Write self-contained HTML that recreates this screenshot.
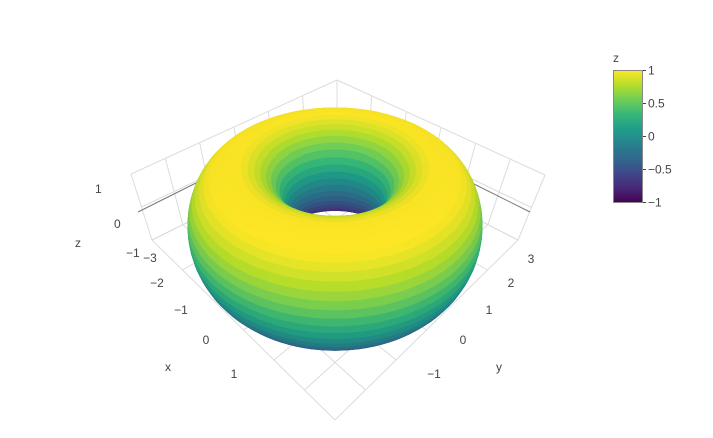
<!DOCTYPE html>
<html><head><meta charset="utf-8">
<style>
html,body{margin:0;padding:0;background:#fff;}
svg{display:block;font-family:"Liberation Sans",sans-serif;}
</style></head>
<body>
<svg id="chart" width="713" height="438" viewBox="0 0 713 438">
  <defs>
    <linearGradient id="vir" x1="0" y1="1" x2="0" y2="0">
      <stop offset="0" stop-color="#440154"/><stop offset="0.111" stop-color="#482878"/>
      <stop offset="0.222" stop-color="#3e4989"/><stop offset="0.333" stop-color="#31688e"/>
      <stop offset="0.444" stop-color="#26828e"/><stop offset="0.556" stop-color="#1f9e89"/>
      <stop offset="0.667" stop-color="#35b779"/><stop offset="0.778" stop-color="#6ece58"/>
      <stop offset="0.889" stop-color="#b5de2b"/><stop offset="1" stop-color="#fde725"/>
    </linearGradient>
  </defs>
  <g id="grid"></g>
  <g id="axisLines">
    <line x1="138" y1="212" x2="200" y2="181" stroke="#777" stroke-width="1"/>
    <line x1="470" y1="182" x2="530" y2="212" stroke="#777" stroke-width="1"/>
  </g>
  <g id="torus"></g>
  <g id="labels" font-size="12" fill="#444"></g>
  <g id="colorbar">
    <text x="613" y="62" font-size="12" fill="#444">z</text>
    <rect x="613.5" y="70.5" width="29" height="132" fill="url(#vir)" stroke="#888" stroke-width="1"/>
  </g>
</svg>
<script>
const NS = "http://www.w3.org/2000/svg";
const torusParams = [2, 1];          // major radius R, minor radius r
const zRange = [-1, 1];
const colorbarTicks = [1, 0.5, 0, -0.5, -1];
const colorbarTickLabels = ["1", "0.5", "0", "\u22120.5", "\u22121"];
const zTickLabels = ["1", "0", "\u22121"];
const xTickLabels = ["\u22123", "\u22122", "\u22121", "0", "1"];
const yTickLabels = ["3", "2", "1", "0", "\u22121"];
const viridis = ["#440154","#482878","#3e4989","#31688e","#26828e","#1f9e89","#35b779","#6ece58","#b5de2b","#fde725"];

function hex(c){return [parseInt(c.slice(1,3),16),parseInt(c.slice(3,5),16),parseInt(c.slice(5,7),16)];}
const vir = viridis.map(hex);
function colorAt(t, shade){
  t = Math.max(0, Math.min(1, t));
  const p = t*(vir.length-1), i = Math.min(vir.length-2, Math.floor(p)), f = p-i;
  const c = [0,1,2].map(k => Math.round((vir[i][k]*(1-f)+vir[i+1][k]*f)*shade));
  return "rgb("+c.join(",")+")";
}

// projection (mild perspective)
const cx = 335, cy = 213, S = 48, A = 30.3, B = 49.34, C = Math.sqrt(A*A+B*B), G = 0.077;
function proj(a, b, z){
  const d = (B*b + A*z)/C;
  const f = 1/(1 - G*d);
  return [cx + f*S*a, cy + f*(A*b - B*z)];
}
const cScale = v => (v - zRange[0])/(zRange[1]-zRange[0]);
const cbY = v => 70.5 + 132*(1 - cScale(v));

// grid
const grid = document.getElementById("grid");
function line(p, q, col, name){
  const l = document.createElementNS(NS, "line");
  l.setAttribute("x1", p[0]); l.setAttribute("y1", p[1]);
  l.setAttribute("x2", q[0]); l.setAttribute("y2", q[1]);
  l.setAttribute("stroke", col); l.setAttribute("stroke-width", "1");
  
  
  grid.appendChild(l);
}
function lerp(p,q,t){return [p[0]+(q[0]-p[0])*t, p[1]+(q[1]-p[1])*t];}
const T=[337,80], LT=[131,174], LB=[152,240], BK=[337,148], RT=[545,175], RB=[518,240], FR=[335,420];
const N = 6, gc = "#dcdcdc";
for(let i=0;i<=N;i++){
  const t=i/N;
  line(lerp(LT,T,t), lerp(LB,BK,t), gc, "left-wall-gridline");
  line(lerp(T,RT,t), lerp(BK,RB,t), gc, "right-wall-gridline");
  line(lerp(LB,BK,t), lerp(FR,RB,t), gc, "floor-gridline");
  line(lerp(BK,RB,t), lerp(LB,FR,t), gc, "floor-gridline");
}
for(let j=0;j<=2;j++){
  const t=j/2;
  line(lerp(LT,LB,t), lerp(T,BK,t), gc, "left-wall-z-gridline");
  line(lerp(T,BK,t), lerp(RT,RB,t), gc, "right-wall-z-gridline");
}

// torus
const g = document.getElementById("torus");
const [R, r] = torusParams;
const NU = 120, NV = 48, quads = [];
function pt(u, v){
  const rho = R + r*Math.cos(v), z = r*Math.sin(v);
  return [rho*Math.cos(u), rho*Math.sin(u), z];
}
for(let i=0;i<NU;i++){
  for(let j=0;j<NV;j++){
    const u0=2*Math.PI*i/NU, u1=2*Math.PI*(i+1)/NU, v0=2*Math.PI*j/NV, v1=2*Math.PI*(j+1)/NV;
    const P=[pt(u0,v0),pt(u1,v0),pt(u1,v1),pt(u0,v1)];
    const um=(u0+u1)/2, vm=(v0+v1)/2;
    const c = pt(um, vm);
    const depth = B*c[1] + A*c[2];
    const val = Math.max(-1, Math.min(1, 0.9*Math.sin(vm) + 0.2*Math.cos(vm) + 0.12));
    const nz = Math.sin(vm), nb = Math.cos(vm)*Math.sin(um);
    const shade = 0.92 + 0.08*Math.max(0, (nz*0.8 + nb*0.6));
    quads.push({P, depth, col: colorAt(cScale(val), shade)});
  }
}
quads.sort((a,b)=>a.depth-b.depth);
for(const q of quads){
  const pts = q.P.map(p=>proj(p[0],p[1],p[2]).map(n=>n.toFixed(1)).join(",")).join(" ");
  const poly = document.createElementNS(NS, "polygon");
  poly.setAttribute("points", pts);
  poly.setAttribute("fill", q.col);
  poly.setAttribute("stroke", q.col);
  poly.setAttribute("stroke-width", "0.6");
  
  
  g.appendChild(poly);
}

// labels
const lab = document.getElementById("labels");
function text(x, y, s, name, anchor){
  const t = document.createElementNS(NS, "text");
  t.setAttribute("x", x); t.setAttribute("y", y);
  if(anchor) t.setAttribute("text-anchor", anchor);
  t.textContent = s;
  
  
  lab.appendChild(t);
}
const zPos=[[98,193],[117,228],[129,257]];
zTickLabels.forEach((s,i)=>text(zPos[i][0]-3,zPos[i][1],s,"z-tick-label","start"));
const xPos=[[150,262],[157,287],[181,314],[206,344],[234,378]];
xTickLabels.forEach((s,i)=>text(xPos[i][0],xPos[i][1],s,"x-tick-label","middle"));
const yPos=[[531,263],[511,287],[489,314],[463,344],[434,378]];
yTickLabels.forEach((s,i)=>text(yPos[i][0],yPos[i][1],s,"y-tick-label","middle"));
text(78,247,"z","z-axis-title","middle");
text(168,371,"x","x-axis-title","middle");
text(499,371,"y","y-axis-title","middle");

// colorbar ticks
const cb = document.getElementById("colorbar");
colorbarTicks.forEach((v,i)=>{
  const y = cbY(v);
  const tk = document.createElementNS(NS,"line");
  tk.setAttribute("x1",643); tk.setAttribute("x2",646); tk.setAttribute("y1",y); tk.setAttribute("y2",y);
  tk.setAttribute("stroke","#444");
  
  
  cb.appendChild(tk);
  const t = document.createElementNS(NS,"text");
  t.setAttribute("x",648); t.setAttribute("y",y+4); t.setAttribute("font-size","12"); t.setAttribute("fill","#444");
  t.textContent = colorbarTickLabels[i];
  
  
  cb.appendChild(t);
});
</script>
</body></html>
